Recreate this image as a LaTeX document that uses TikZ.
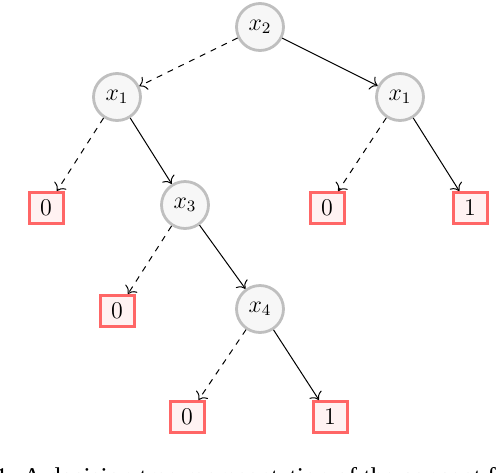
\documentclass[tikz,border=0pt]{standalone}
\usepackage{fontspec}
\newfontfamily\capfont{Liberation Serif}
\usetikzlibrary{arrows.meta, positioning}

\begin{document}
\begin{tikzpicture}[
    x=0.5pt, y=-0.5pt,
    var/.style={circle, draw=gray!50, fill=gray!6, line width=1.4pt, minimum size=23.5pt, inner sep=0pt, font=\large},
    leaf/.style={rectangle, draw=red!60, fill=red!5, line width=1.5pt, minimum width=17pt, minimum height=15.5pt, inner sep=0pt, font=\large},
    yes/.style={-{To[length=1.2mm]}, line width=0.5pt},
    no/.style={-{To[length=1.2mm]}, dashed, line width=0.5pt}
]
\useasboundingbox (0,0) rectangle (498,472);
\clip (0,0) rectangle (498,472);
\node[var] (r) at (260,27) {$x_2$};
\node[var] (a) at (117,97) {$x_1$};
\node[var] (b) at (400,97) {$x_1$};
\node[leaf] (a0) at (46,208) {0};
\node[var] (c) at (185,205) {$x_3$};
\node[leaf] (b0) at (327,208) {0};
\node[leaf] (b1) at (470,208) {1};
\node[leaf] (c0) at (117,311) {0};
\node[var] (d) at (260,309) {$x_4$};
\node[leaf] (d0) at (187,417) {0};
\node[leaf] (d1) at (330,417) {1};
\draw[no] (r) -- (a);
\draw[yes] (r) -- (b);
\draw[no] (a) -- (a0);
\draw[yes] (a) -- (c);
\draw[no] (b) -- (b0);
\draw[yes] (b) -- (b1);
\draw[no] (c) -- (c0);
\draw[yes] (c) -- (d);
\draw[no] (d) -- (d0);
\draw[yes] (d) -- (d1);
% caption, cut by the page edge
\node[anchor=base west, font=\capfont\fontsize{12.8}{14}\selectfont, inner sep=0pt] (cap) at (-5,485) {1. A decision tree representation of the concept f};
\end{tikzpicture}
\end{document}
